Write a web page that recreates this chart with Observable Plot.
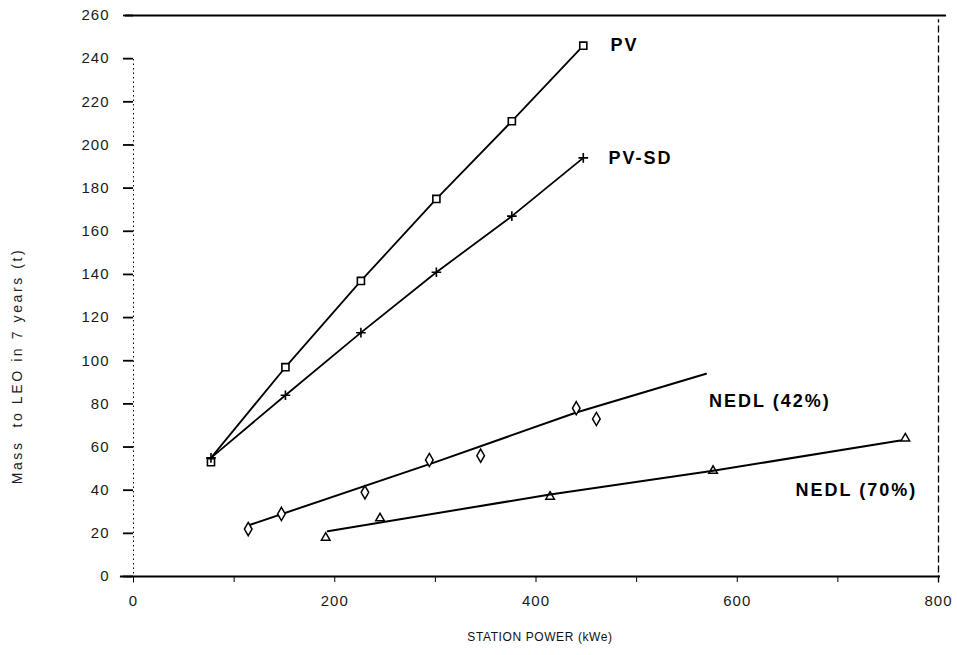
<!DOCTYPE html>
<html>
<head>
<meta charset="utf-8">
<script src="https://cdn.jsdelivr.net/npm/d3@7"></script>
<script src="https://cdn.jsdelivr.net/npm/@observablehq/plot@0.6"></script>
<style>
  html, body { margin: 0; padding: 0; background: #fff; }
  #chart svg { display: block; }
</style>
</head>
<body>
<div id="chart"></div>
<script>
// ---- data ----
const xTicks = [0, 100, 200, 300, 400, 500, 600, 700, 800];
const xTickLabels = [0, 200, 400, 600, 800];
const yTicks = [0, 20, 40, 60, 80, 100, 120, 140, 160, 180, 200, 220, 240, 260];

const pvX = [77, 151, 226, 301, 376, 447];
const pvY = [55, 97, 137, 175, 211, 246];
const pvMarkY = [53, 97, 137, 175, 211, 246];

const sdX = [77, 151, 226, 301, 376, 447];
const sdY = [55, 84, 113, 141, 167, 194];

const n42MarkX = [114, 147, 230, 294, 345, 440, 460];
const n42MarkY = [22, 29, 39, 54, 56, 78, 73];
const n42LineX = [116, 300, 440, 569];
const n42LineY = [24, 53, 76, 94];

const n70MarkX = [191, 245, 414, 576, 767];
const n70MarkY = [18, 27, 37, 49, 64];
const n70LineX = [193, 414, 576, 762];
const n70LineY = [21, 38, 49, 63];

const seriesLabels = ["PV", "PV-SD", "NEDL (42%)", "NEDL (70%)"];
const labelX = [474, 472, 572, 658];
const labelY = [246, 194, 81, 40];

const xTitle = "STATION POWER (kWe)";
const yTitle = "Mass  to LEO in 7 years (t)";

// ---- build tables ----
const zip = (xs, ys) => xs.map((x, i) => ({x, y: ys[i]}));
const pvLine = zip(pvX, pvY), pvMarks = zip(pvX, pvMarkY);
const sdLine = zip(sdX, sdY);
const n42Marks = zip(n42MarkX, n42MarkY), n42Line = zip(n42LineX, n42LineY);
const n70Marks = zip(n70MarkX, n70MarkY), n70Line = zip(n70LineX, n70LineY);
const labels = seriesLabels.map((t, i) => ({t, x: labelX[i], y: labelY[i]}));

const chart = Plot.plot({
  width: 957,
  height: 655,
  marginLeft: 133,
  marginRight: 19,
  marginTop: 15,
  marginBottom: 79,
  style: {fontFamily: "'Liberation Sans', Arial, sans-serif", fontSize: "15px", color: "#000", background: "#fff", overflow: "visible"},
  x: {domain: [0, 800]},
  y: {domain: [0, 260]},
  marks: [
    // frame pieces
    Plot.ruleY([0], {x1: -13, x2: 802, stroke: "#000", strokeWidth: 2.2}),
    Plot.ruleY([260], {x1: -8, x2: 808, stroke: "#000", strokeWidth: 2}),
    Plot.ruleX([0], {y1: -3, y2: 240, stroke: "#000", strokeWidth: 1, strokeDasharray: "1.5,3"}),
    Plot.ruleX([800], {y1: -3, y2: 258, stroke: "#000", strokeWidth: 1.3, strokeDasharray: "7,3"}),
    // axes
    Plot.axisY({ticks: yTicks, tickSize: 10, tickPadding: 14, tickFormat: d => d, label: null, stroke: "#000", strokeWidth: 1.8, fill: "#1a1a1a"}),
    Plot.axisX({ticks: xTicks, tickSize: 6, tickPadding: 13,
      tickFormat: d => xTickLabels.includes(d) ? String(d) : "",
      label: null, stroke: "#000", fill: "#1a1a1a"}),
    Plot.text([xTitle], {frameAnchor: "bottom", dy: 64, dx: 4, fontSize: 12, fill: "#111", textAnchor: "middle"}),
    Plot.text([yTitle], {frameAnchor: "left", dx: -116, dy: 70, rotate: -90, textAnchor: "middle", fontSize: 14, fill: "#222"}),
    // series lines
    Plot.line(pvLine, {x: "x", y: "y", stroke: "#000", strokeWidth: 1.8}),
    Plot.line(sdLine, {x: "x", y: "y", stroke: "#000", strokeWidth: 1.8}),
    Plot.line(n42Line, {x: "x", y: "y", stroke: "#000", strokeWidth: 2}),
    Plot.line(n70Line, {x: "x", y: "y", stroke: "#000", strokeWidth: 2}),
    // markers
    Plot.dot(pvMarks, {x: "x", y: "y", symbol: "square", r: 4, stroke: "#000", strokeWidth: 1.6, fill: "#fff"}),
    Plot.dot(sdLine, {x: "x", y: "y", symbol: "plus", r: 3.2, stroke: "#000", strokeWidth: 1.6}),
    Plot.dot(n42Marks, {x: "x", y: "y", symbol: "diamond", r: 4, stroke: "#000", strokeWidth: 1.5, fill: "#fff"}),
    Plot.dot(n70Marks, {x: "x", y: "y", symbol: "triangle", r: 3.2, stroke: "#000", strokeWidth: 1.5, fill: "none"}),
    // series labels
    Plot.text(labels, {x: "x", y: "y", text: "t", textAnchor: "start", fontWeight: "bold", fontSize: 18, fill: "#000"})
  ]
});
// letter spacing (styling only)
d3.select(chart).selectAll("text").each(function () {
  const s = this.textContent;
  const el = d3.select(this);
  if (seriesLabels.includes(s)) el.style("letter-spacing", "2px");
  else if (s === yTitle) el.style("letter-spacing", "2.6px").style("white-space", "pre");
  else if (s === xTitle) el.style("letter-spacing", "0.6px");
  else if (/^\d+$/.test(s)) el.style("letter-spacing", "1px");
});
document.getElementById("chart").appendChild(chart);
</script>
</body>
</html>
